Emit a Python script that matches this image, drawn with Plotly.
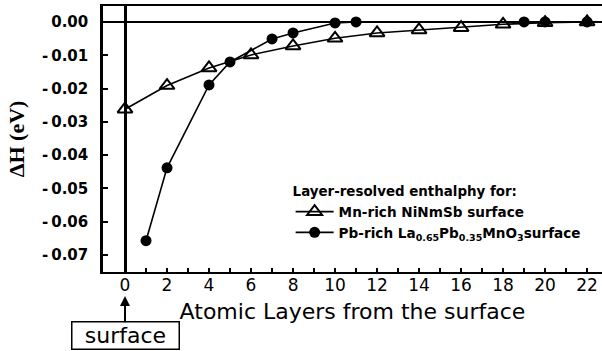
import plotly.graph_objects as go

# Data
tri_x = [0, 2, 4, 6, 8, 10, 12, 14, 16, 18, 20, 22]
tri_y = [-0.0262, -0.0191, -0.0138, -0.0099, -0.0072, -0.0049, -0.0033, -0.0024, -0.0017, -0.0007, -0.0002, 0.0]
cir_x = [1, 2, 4, 5, 7, 8, 10, 11, 19, 20, 22]
cir_y = [-0.0657, -0.0438, -0.0189, -0.0120, -0.0051, -0.0033, -0.0003, 0.0, 0.0, 0.0, 0.0]

x_tickvals = list(range(0, 23))
x_ticktext = [str(v) if v % 2 == 0 else "" for v in x_tickvals]
y_tickvals = [0.0, -0.01, -0.02, -0.03, -0.04, -0.05, -0.06, -0.07]
y_ticktext = ["0.00", "-\u20090.01", "-\u20090.02", "-\u20090.03", "-\u20090.04", "-\u20090.05", "-\u20090.06", "-\u20090.07"]

series1_name = "Mn-rich NiNmSb surface"
series2_name = "Pb-rich La<sub>0.65</sub>Pb<sub>0.35</sub>MnO<sub>3</sub>surface"
legend_title = "Layer-resolved enthalphy for:"

fig = go.Figure()
fig.add_trace(go.Scatter(
    x=tri_x, y=tri_y, name=series1_name, mode="lines+markers",
    line=dict(color="black", width=1.6),
    marker=dict(symbol="triangle-up-open", size=13, color="black", line=dict(width=2, color="black")),
))
fig.add_trace(go.Scatter(
    x=cir_x, y=cir_y, name=series2_name, mode="lines+markers",
    line=dict(color="black", width=1.6),
    marker=dict(symbol="circle", size=11, color="black"),
))

fig.update_layout(
    width=602, height=351,
    margin=dict(l=103, r=0, t=6, b=79, autoexpand=False),
    plot_bgcolor="white", paper_bgcolor="white",
    showlegend=True,
    legend=dict(
        x=0.376, y=0.35, xanchor="left", yanchor="top",
        bgcolor="rgba(0,0,0,0)",
        font=dict(family="DejaVu Sans", size=13.6, color="black", weight="bold"),
        title=dict(text=legend_title, font=dict(family="DejaVu Sans", size=13.4, color="black", weight="bold")),
        tracegroupgap=0, itemwidth=38,
    ),
    xaxis=dict(
        range=[-1.048, 22.71],
        tickmode="array", tickvals=x_tickvals, ticktext=x_ticktext,
        ticks="inside", ticklen=4, tickwidth=1.5, tickcolor="black",
        tickfont=dict(family="DejaVu Sans", size=17, color="black"),
        ticklabelstandoff=-3,
        showline=True, linecolor="black", linewidth=2, mirror=True,
        zeroline=True, zerolinecolor="black", zerolinewidth=2.5,
        showgrid=False, automargin=False,
        title=dict(text="Atomic Layers from the surface",
                   font=dict(family="DejaVu Sans", size=22, color="black"), standoff=9),
    ),
    yaxis=dict(
        range=[-0.0751, 0.0048],
        tickmode="array", tickvals=y_tickvals, ticktext=y_ticktext,
        ticks="inside", ticklen=5, tickwidth=1.5, tickcolor="black",
        tickfont=dict(family="DejaVu Sans", size=15, color="black", weight="bold"),
        ticklabelstandoff=9,
        showline=True, linecolor="black", linewidth=2.5, mirror=False,
        zeroline=True, zerolinecolor="black", zerolinewidth=2,
        showgrid=False, automargin=False,
        title=dict(text="ΔH (eV)", font=dict(family="Liberation Serif", size=22, color="black", weight="bold"), standoff=12),
    ),
    annotations=[dict(
        x=0, xref="x", y=-0.0902, yref="paper",
        text="surface", showarrow=True, ax=0, ay=40,
        arrowhead=2, arrowsize=1, arrowwidth=2, arrowcolor="black",
        font=dict(family="DejaVu Sans", size=22, color="black"),
        bordercolor="black", borderwidth=1.5, borderpad=1,
        width=104, height=24, bgcolor="white",
    )],
)

fig.write_html("out.html")
